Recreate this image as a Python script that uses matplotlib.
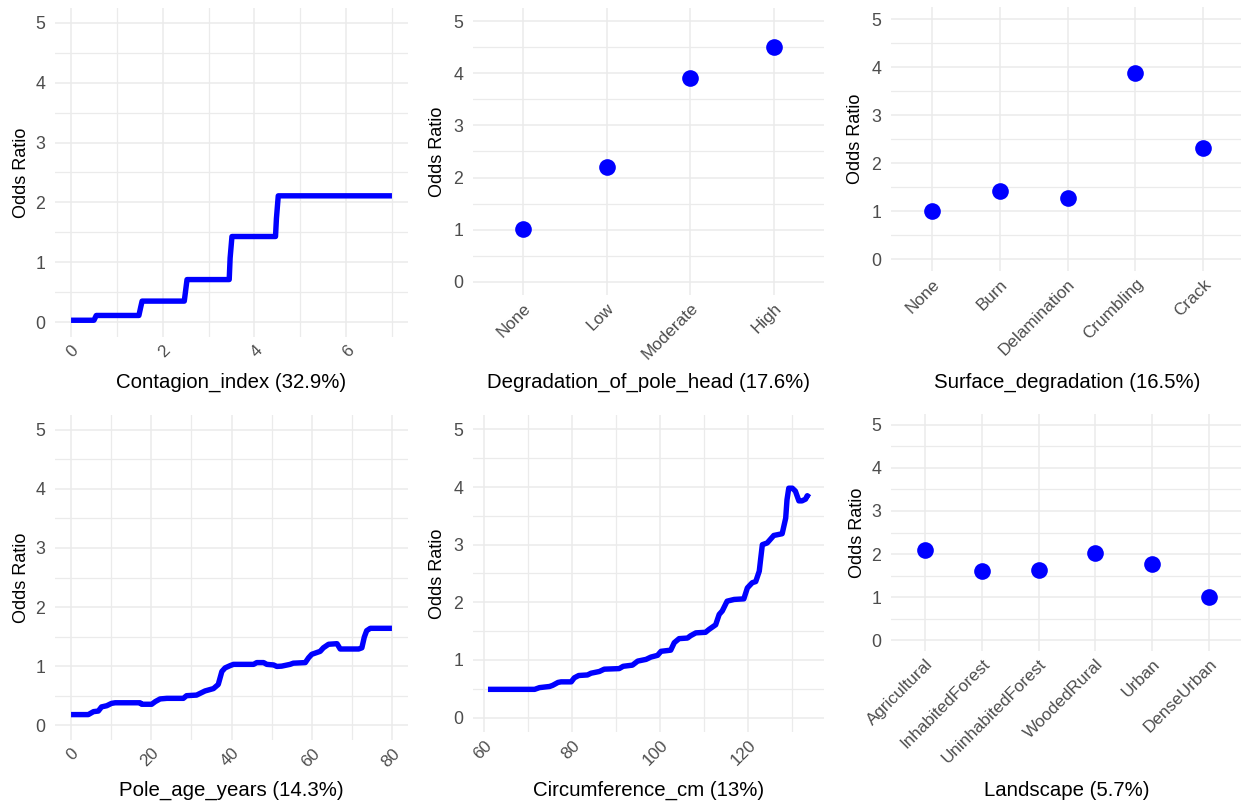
import matplotlib
matplotlib.use("Agg")
import matplotlib.pyplot as plt
import matplotlib.transforms as mtransforms
from matplotlib.ticker import MultipleLocator

plt.rcParams['font.family'] = ['Liberation Sans', 'DejaVu Sans']

# ---- data ---------------------------------------------------------------
contagion_x = [0.0, 0.50, 0.55, 1.48, 1.52, 1.55, 2.47, 2.50, 2.53, 3.45, 3.47, 3.51,
               4.46, 4.48, 4.52, 7.0]
contagion_y = [0.03, 0.03, 0.11, 0.11, 0.25, 0.35, 0.35, 0.53, 0.71, 0.71, 1.07, 1.43,
               1.43, 1.73, 2.11, 2.11]

degradation_cats = ["None", "Low", "Moderate", "High"]
degradation_or = [1.02, 2.21, 3.90, 4.50]

surface_cats = ["None", "Burn", "Delamination", "Crumbling", "Crack"]
surface_or = [1.01, 1.41, 1.28, 3.88, 2.32]

age_x = [0, 4.3, 5.6, 6.8, 7.6, 8.9, 10.1, 11.0, 17.2, 17.6, 20.1, 21.0, 22.2, 23.9, 28.0,
         28.8, 31.3, 32.2, 33.4, 35.5, 36.7, 37.6, 38.4, 39.7, 40.5, 45.5, 46.3, 48.0, 48.8,
         50.5, 51.3, 52.5, 54.6, 55.4, 58.4, 59.2, 60.0, 62.1, 62.9, 64.2, 66.3, 67.1, 67.9,
         71.7, 72.5, 73.1, 73.7, 74.6, 80.0]
age_y = [0.18, 0.18, 0.23, 0.24, 0.31, 0.33, 0.37, 0.38, 0.38, 0.355, 0.355, 0.40, 0.445,
         0.455, 0.455, 0.50, 0.51, 0.54, 0.58, 0.62, 0.69, 0.91, 0.97, 1.01, 1.03, 1.03,
         1.06, 1.06, 1.03, 1.02, 0.995, 1.00, 1.03, 1.05, 1.06, 1.14, 1.20, 1.25, 1.31,
         1.37, 1.38, 1.29, 1.29, 1.29, 1.31, 1.49, 1.60, 1.64, 1.64]

circ_x = [60.9, 71.5, 72.6, 74.9, 75.6, 76.8, 77.5, 79.8, 80.5, 81.5, 83.5, 84.3, 86.2,
          87.3, 90.7, 91.6, 93.7, 94.9, 96.8, 97.9, 99.4, 100.2, 102.4, 103.2, 104.3,
          106.2, 106.9, 108.1, 110.3, 111.1, 112.6, 113.4, 114.1, 115.2, 116.8, 119.0,
          119.8, 120.9, 121.7, 122.5, 122.8, 123.2, 124.3, 125.8, 127.7, 128.5, 128.8,
          129.2, 130.0, 130.7, 131.5, 132.2, 133.0, 133.4, 133.9]
circ_y = [0.49, 0.49, 0.52, 0.54, 0.56, 0.61, 0.62, 0.62, 0.69, 0.73, 0.74, 0.77, 0.80,
          0.84, 0.85, 0.89, 0.91, 0.98, 1.01, 1.05, 1.08, 1.15, 1.17, 1.30, 1.37, 1.38,
          1.42, 1.47, 1.48, 1.53, 1.61, 1.79, 1.85, 2.02, 2.05, 2.06, 2.25, 2.34, 2.36,
          2.54, 2.74, 3.00, 3.03, 3.16, 3.19, 3.46, 3.78, 3.98, 3.98, 3.93, 3.76, 3.76,
          3.79, 3.85, 3.82]

landscape_cats = ["Agricultural", "InhabitedForest", "UninhabitedForest", "WoodedRural",
                  "Urban", "DenseUrban"]
landscape_or = [2.10, 1.61, 1.64, 2.02, 1.78, 1.00]

titles = ["Contagion_index (32.9%)", "Degradation_of_pole_head (17.6%)",
          "Surface_degradation (16.5%)", "Pole_age_years (14.3%)",
          "Circumference_cm (13%)", "Landscape (5.7%)"]

# ---- styling ------------------------------------------------------------
W, H = 1241, 805
BLUE = "#0000FF"
GRID = "#EBEBEB"
TICK = "#4D4D4D"
LINE_W = 3.9

fig = plt.figure(figsize=(W / 100, H / 100), dpi=100)
fig.patch.set_facecolor("white")


def make_axes(left, top, right, bottom):
    return fig.add_axes([left / W, 1 - bottom / H, (right - left) / W, (bottom - top) / H])


def style(ax, title, ylab_x, xlab_y, minor_x=None):
    ax.set_ylim(-0.25, 5.25)
    ax.yaxis.set_major_locator(MultipleLocator(1))
    ax.yaxis.set_minor_locator(MultipleLocator(0.5))
    if minor_x is not None:
        ax.xaxis.set_minor_locator(MultipleLocator(minor_x))
    for s in ax.spines.values():
        s.set_visible(False)
    ax.set_axisbelow(True)
    ax.grid(True, which="major", color=GRID, linewidth=1.1)
    ax.grid(True, which="minor", color=GRID, linewidth=0.9)
    ax.tick_params(which="both", length=0)
    ax.tick_params(axis="y", labelsize=12.8, labelcolor=TICK, pad=7)
    ax.tick_params(axis="x", labelsize=12.3, labelcolor=TICK, pad=4)
    for lab in ax.get_xticklabels():
        lab.set_rotation(45)
        lab.set_ha("right")
        lab.set_va("top")
        lab.set_rotation_mode("anchor")
    ax.set_xlabel(title, fontsize=14.7, color="black", va="center")
    ax.set_ylabel("Odds Ratio", fontsize=13, color="black", va="center")
    ax.xaxis.set_label_coords(0.5, 1 - xlab_y / H,
                              transform=mtransforms.blended_transform_factory(ax.transAxes, fig.transFigure))
    ax.yaxis.set_label_coords(ylab_x / W, 0.5,
                              transform=mtransforms.blended_transform_factory(fig.transFigure, ax.transAxes))


def cat_axes(ax, cats, vals):
    pos = list(range(len(cats)))
    ax.plot(pos, vals, "o", color=BLUE, markersize=12, markeredgewidth=0)
    ax.set_xticks(pos)
    ax.set_xticklabels(cats)
    ax.set_xlim(-0.6, len(cats) - 0.4)


# Contagion index
ax1 = make_axes(55, 8, 408, 337)
ax1.plot(contagion_x, contagion_y, color=BLUE, linewidth=LINE_W, solid_capstyle="butt")
ax1.set_xlim(-0.35, 7.35)
ax1.set_xticks([0, 2, 4, 6])
style(ax1, titles[0], 21, 382, minor_x=1)

# Degradation of pole head
ax2 = make_axes(473, 8, 824, 295)
cat_axes(ax2, degradation_cats, degradation_or)
style(ax2, titles[1], 438, 382)

# Surface degradation
ax3 = make_axes(891, 7, 1244, 271)
cat_axes(ax3, surface_cats, surface_or)
style(ax3, titles[2], 856, 382)

# Pole age
ax4 = make_axes(55, 415, 408, 740)
ax4.plot(age_x, age_y, color=BLUE, linewidth=LINE_W, solid_capstyle="butt")
ax4.set_xlim(-4, 84)
ax4.set_xticks([0, 20, 40, 60, 80])
style(ax4, titles[3], 21, 790, minor_x=10)

# Circumference
ax5 = make_axes(473, 415, 824, 732)
ax5.plot(circ_x, circ_y, color=BLUE, linewidth=LINE_W, solid_capstyle="butt")
ax5.set_xlim(57.5, 137.2)
ax5.set_xticks([60, 80, 100, 120])
style(ax5, titles[4], 438, 790, minor_x=10)

# Landscape
ax6 = make_axes(891, 414, 1243, 651)
cat_axes(ax6, landscape_cats, landscape_or)
style(ax6, titles[5], 857, 790)

fig.savefig("out.png", dpi=100, facecolor="white")
